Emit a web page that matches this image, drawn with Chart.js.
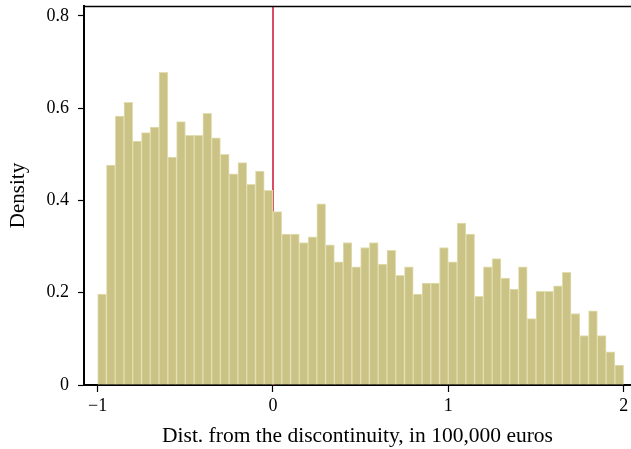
<!DOCTYPE html>
<html>
<head>
<meta charset="utf-8">
<script src="https://cdn.jsdelivr.net/npm/chart.js@4"></script>
<style>
    html, body { margin: 0; padding: 0; background: #fff; }
    #wrap { width: 631px; height: 449px; position: relative; }
</style>
</head>
<body>
<div id="wrap"><canvas id="densityHist"></canvas></div>
<script>
// Histogram bins: centres (width 0.05) and density per bin
var binCenters = [
    -0.975, -0.925, -0.875, -0.825, -0.775, -0.725, -0.675, -0.625, -0.575, -0.525,
    -0.475, -0.425, -0.375, -0.325, -0.275, -0.225, -0.175, -0.125, -0.075, -0.025,
     0.025,  0.075,  0.125,  0.175,  0.225,  0.275,  0.325,  0.375,  0.425,  0.475,
     0.525,  0.575,  0.625,  0.675,  0.725,  0.775,  0.825,  0.875,  0.925,  0.975,
     1.025,  1.075,  1.125,  1.175,  1.225,  1.275,  1.325,  1.375,  1.425,  1.475,
     1.525,  1.575,  1.625,  1.675,  1.725,  1.775,  1.825,  1.875,  1.925,  1.975
];
var density = [
    0.197, 0.477, 0.583, 0.613, 0.529, 0.547, 0.559, 0.678, 0.494, 0.571,
    0.541, 0.541, 0.589, 0.536, 0.500, 0.458, 0.482, 0.435, 0.464, 0.422,
    0.376, 0.327, 0.327, 0.309, 0.321, 0.393, 0.304, 0.267, 0.309, 0.256,
    0.298, 0.309, 0.262, 0.292, 0.238, 0.256, 0.197, 0.221, 0.221, 0.298,
    0.267, 0.351, 0.327, 0.192, 0.256, 0.274, 0.232, 0.208, 0.256, 0.144,
    0.203, 0.203, 0.215, 0.244, 0.155, 0.107, 0.161, 0.107, 0.072, 0.043
];
var xTicks = [-1, 0, 1, 2];
var yTicks = [0, 0.2, 0.4, 0.6, 0.8];
var cutoff = 0;

var serif = '"Liberation Serif", "Times New Roman", serif';

// top frame line + cutoff line (behind the bars)
var framePlugin = {
    id: 'frameAndCutoff',
    beforeDatasetsDraw: function (chart) {
        var ctx = chart.ctx;
        var area = chart.chartArea;
        var x = chart.scales.x.getPixelForValue(cutoff);
        ctx.save();
        ctx.strokeStyle = '#cc1038';
        ctx.lineWidth = 1.5;
        ctx.beginPath();
        ctx.moveTo(x, area.top);
        ctx.lineTo(x, area.bottom);
        ctx.stroke();
        ctx.restore();
    },
    afterDraw: function (chart) {
        var ctx = chart.ctx;
        var area = chart.chartArea;
        ctx.save();
        ctx.strokeStyle = '#000';
        ctx.lineWidth = 1.5;
        ctx.beginPath();
        ctx.moveTo(area.left, area.top + 0.5);
        ctx.lineTo(area.right, area.top + 0.5);
        ctx.stroke();
        ctx.restore();
    }
};

new Chart(document.getElementById('densityHist'), {
    type: 'bar',
    data: {
        datasets: [{
            data: binCenters.map(function (c, i) { return { x: c, y: density[i] }; }),
            backgroundColor: '#cbc386',
            borderColor: '#e2deb0',
            borderWidth: 1,
            borderSkipped: 'bottom',
            barPercentage: 1,
            categoryPercentage: 1
        }]
    },
    options: {
        responsive: true,
        maintainAspectRatio: false,
        animation: false,
        layout: { padding: { top: 6, right: 0, left: 0, bottom: 0 } },
        plugins: {
            legend: { display: false },
            tooltip: { enabled: false }
        },
        scales: {
            x: {
                type: 'linear',
                offset: false,
                min: -1.078,
                max: 2.042,
                afterBuildTicks: function (axis) {
                    axis.ticks = xTicks.map(function (v) { return { value: v }; });
                },
                afterFit: function (scale) {
                    scale.height = 64;
                    scale.paddingLeft = 0;
                    scale.paddingRight = 0;
                },
                grid: { offset: false, drawOnChartArea: false, color: '#000', tickLength: 7, tickWidth: 1.2 },
                border: { display: true, color: '#000', width: 2 },
                ticks: {
                    color: '#000',
                    padding: 3,
                    font: { size: 18, family: serif },
                    maxRotation: 0,
                    callback: function (v) { return v < 0 ? '\u2212' + Math.abs(v) : String(v); }
                },
                title: {
                    display: true,
                    text: 'Dist. from the discontinuity, in 100,000 euros',
                    color: '#000',
                    font: { size: 21.5, family: serif },
                    padding: { top: 0, bottom: 0 }
                }
            },
            y: {
                min: 0,
                max: 0.8216,
                afterBuildTicks: function (axis) {
                    axis.ticks = yTicks.map(function (v) { return { value: v }; });
                },
                afterFit: function (scale) {
                    scale.width = 84;
                    scale.paddingTop = 0;
                    scale.paddingBottom = 0;
                },
                grid: { drawOnChartArea: false, color: '#000', tickLength: 6, tickWidth: 1.2 },
                border: { display: true, color: '#000', width: 2 },
                ticks: {
                    color: '#000',
                    padding: 9,
                    font: { size: 18, family: serif },
                    callback: function (v) { return String(v); }
                },
                title: {
                    display: true,
                    text: 'Density',
                    color: '#000',
                    font: { size: 21, family: serif },
                    padding: { top: 6, bottom: 0 }
                }
            }
        }
    },
    plugins: [framePlugin]
});
</script>
</body>
</html>
